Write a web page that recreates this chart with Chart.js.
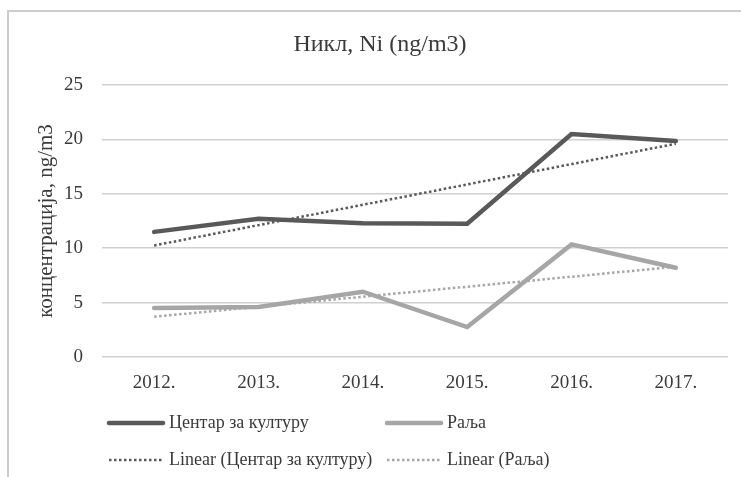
<!DOCTYPE html>
<html><head><meta charset="utf-8">
<script src="https://cdn.jsdelivr.net/npm/chart.js@4/dist/chart.umd.min.js"></script>
<style>html,body{margin:0;padding:0;background:#fff;}#wrap{width:741px;height:477px;}</style>
</head><body><div id="wrap"><canvas id="c" width="741" height="477"></canvas></div>
<script>
const chartTitle = 'Никл, Ni (ng/m3)';
const yAxisTitle = 'концентрација, ng/m3';
const years = ['2012.', '2013.', '2014.', '2015.', '2016.', '2017.'];
const centarValues = [11.5, 12.7, 12.3, 12.25, 20.5, 19.85];
const raljaValues = [4.5, 4.6, 6.0, 2.75, 10.35, 8.2];
// trend line end points
const trendYears = ['2012.', '2017.'];
const centarTrend = [10.25, 19.6];
const raljaTrend = [3.7, 8.3];
const seriesNames = ['Центар за културу', 'Раља', 'Linear (Центар за културу)', 'Linear (Раља)'];

const FONT = "'Liberation Serif', 'Times New Roman', serif";
const TXT = '#3a3a3a';

const decor = {
  id: 'decor',
  beforeDraw(chart) {
    const ctx = chart.ctx;
    ctx.save();
    ctx.fillStyle = '#fff';
    ctx.fillRect(0, 0, chart.width, chart.height);
    ctx.strokeStyle = '#cccccc';
    ctx.lineWidth = 2;
    ctx.strokeRect(8, 11, 800, 600);
    ctx.restore();
  },
  afterDraw(chart) {
    const ctx = chart.ctx;
    const area = chart.chartArea;
    ctx.save();
    ctx.fillStyle = TXT;
    ctx.font = '24px ' + FONT;
    ctx.textAlign = 'center';
    ctx.textBaseline = 'middle';
    ctx.fillText(chartTitle, 380, 45);
    // legend
    const cols = [area.left + 7, area.left + 285];
    const rows = [423, 460];
    const sw = 54;
    ctx.font = '18px ' + FONT;
    ctx.textAlign = 'left';
    chart.data.datasets.forEach((ds, i) => {
      const x = cols[i % 2];
      const y = rows[Math.floor(i / 2)];
      ctx.save();
      ctx.strokeStyle = ds.borderColor;
      ctx.lineWidth = ds.borderWidth;
      ctx.setLineDash(ds.borderDash || []);
      ctx.lineCap = ds.borderDash ? 'butt' : 'round';
      ctx.beginPath();
      ctx.moveTo(x, y);
      ctx.lineTo(x + sw, y);
      ctx.stroke();
      ctx.restore();
      ctx.fillStyle = TXT;
      ctx.fillText(ds.label, x + sw + 6, y);
    });
    ctx.restore();
  }
};

new Chart(document.getElementById('c'), {
  type: 'line',
  data: {
    labels: years,
    datasets: [
      { label: seriesNames[0], data: centarValues, borderColor: '#595959', borderWidth: 4.5, pointRadius: 0, tension: 0, order: 1, borderCapStyle: 'round' },
      { label: seriesNames[1], data: raljaValues, borderColor: '#a6a6a6', borderWidth: 4.5, pointRadius: 0, tension: 0, order: 1, borderCapStyle: 'round' },
      { label: seriesNames[2], data: trendYears.map((y, i) => ({ x: y, y: centarTrend[i] })), borderColor: '#595959', borderWidth: 2.5, borderDash: [2.5, 2.5], pointRadius: 0, tension: 0, order: 0 },
      { label: seriesNames[3], data: trendYears.map((y, i) => ({ x: y, y: raljaTrend[i] })), borderColor: '#a6a6a6', borderWidth: 2.5, borderDash: [2.5, 2.5], pointRadius: 0, tension: 0, order: 0 }
    ]
  },
  options: {
    responsive: false,
    animation: false,
    layout: { padding: { left: 0, right: 13, top: 85, bottom: 0 } },
    plugins: { legend: { display: false }, title: { display: false }, tooltip: { enabled: false } },
    scales: {
      x: {
        type: 'category',
        offset: true,
        grid: { display: false, drawTicks: false },
        border: { display: false },
        ticks: { color: TXT, font: { family: FONT, size: 19 }, padding: 15, maxRotation: 0 },
        afterFit(s) { s.height = 120; }
      },
      y: {
        min: 0, max: 25,
        ticks: { stepSize: 5, color: TXT, font: { family: FONT, size: 19 }, padding: 19 },
        grid: { color: '#d0d0d0', lineWidth: 1.5, drawTicks: false },
        border: { display: false },
        title: { display: true, text: yAxisTitle, color: TXT, font: { family: FONT, size: 21 }, padding: { top: 34, bottom: 0 } },
        afterFit(s) { s.width = 102; }
      }
    }
  },
  plugins: [decor]
});
</script>
</body></html>
